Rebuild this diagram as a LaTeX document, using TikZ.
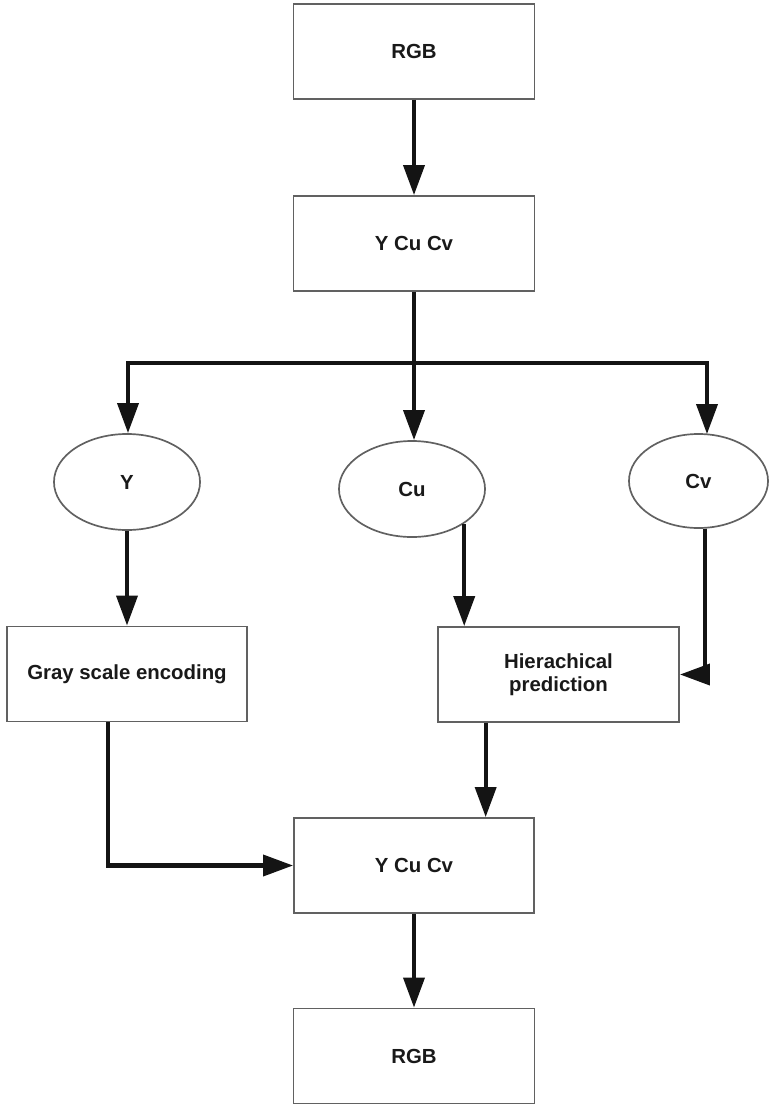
\documentclass[tikz,border=0pt]{standalone}
\usepackage{fontspec}
\setmainfont{Liberation Sans}
\usetikzlibrary{arrows.meta,shapes.geometric,calc}
\begin{document}
\begin{tikzpicture}[x=0.025cm, y=-0.025cm,
  every node/.style={font=\fontsize{14.5}{16.5}\selectfont\bfseries, text=black!90},
  blockbox/.style={rectangle, draw=black!62, line width=1.2pt, fill=white,
    minimum width=6.025cm, minimum height=2.375cm, inner sep=0pt, align=center},
  chan/.style={ellipse, draw=black!62, line width=1.2pt, fill=white, inner sep=0pt},
  flow/.style={draw=black!92, line width=3pt,
    -{Triangle[length=0.75cm, width=0.52cm]}},
  wire/.style={draw=black!92, line width=3pt}]
  \useasboundingbox (0,0) rectangle (769,1106);

  % blocks
  \node[blockbox] (rgbin)  at (414, 51.5)  {RGB};
  \node[blockbox] (yccin)  at (414, 243.5) {Y Cu Cv};
  \node[blockbox, minimum width=6cm] (gray) at (127, 674) {Gray scale encoding};
  \node[blockbox] (hier)   at (558.5, 674.5) {Hierachical\\prediction};
  \node[blockbox, minimum width=6cm] (yccout) at (414, 865.5) {Y Cu Cv};
  \node[blockbox] (rgbout) at (414, 1056)  {RGB};

  % colour channels
  \node[chan, minimum width=3.65cm, minimum height=2.4cm]   (Y)  at (127, 482) {Y};
  \node[chan, minimum width=3.65cm, minimum height=2.4cm]   (Cu) at (412, 489) {Cu};
  \node[chan, minimum width=3.475cm, minimum height=2.35cm] (Cv) at (698.5, 481) {Cv};

  % splitting bus
  \coordinate (jc) at (414, 363);
  \coordinate (jl) at (128, 363);
  \coordinate (jr) at (707, 363);

  \draw[flow] (rgbin) -- (yccin);
  \draw[wire] (yccin.south) -- (jc);
  \draw[wire, line cap=rect] (jl) -- (jr);
  \draw[flow] (jl) -- (jl |- Y.north);
  \draw[flow] (jc) -- (jc |- Cu.north);
  \draw[flow] (jr) -- ($(jr |- Cv.north)+(0,1)$);

  \draw[flow] (Y) -- (gray);
  \draw[flow] (Cu.south east) -- (Cu.south east |- hier.north);
  \draw[flow] (Cv.-82) |- (hier.east);

  \coordinate (gout) at ($(gray.south west)!0.42!(gray.south east)$);
  \coordinate (hout) at ($(hier.south west)!0.2!(hier.south east)$);
  \draw[flow] (gout) |- (yccout.west);
  \draw[flow] (hout) -- (hout |- yccout.north);
  \draw[flow] (yccout) -- (rgbout);
\end{tikzpicture}
\end{document}
